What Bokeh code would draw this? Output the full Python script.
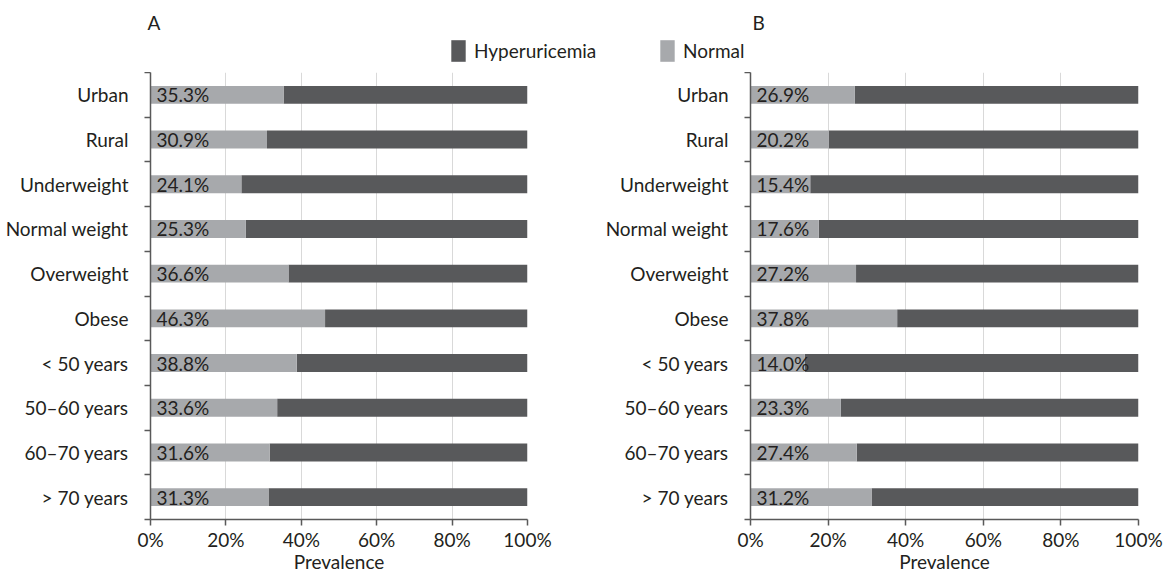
from bokeh.plotting import figure
from bokeh.layouts import column, row
from bokeh.models import (ColumnDataSource, FixedTicker, LabelSet, Label,
                          Legend, LegendItem, PrintfTickFormatter, Range1d)
from bokeh.core.properties import value
from bokeh.embed import file_html
from bokeh.resources import INLINE

# Groups, listed top to bottom
categories = ["Urban", "Rural", "Underweight", "Normal weight", "Overweight",
              "Obese", "< 50 years", "50\u201360 years", "60\u201370 years", "> 70 years"]

# Share of "Normal" (percent) in each group, panel A and panel B
normal_a = [35.3, 30.9, 24.1, 25.3, 36.6, 46.3, 38.8, 33.6, 31.6, 31.3]
normal_b = [26.9, 20.2, 15.4, 17.6, 27.2, 37.8, 14.0, 23.3, 27.4, 31.2]

x_ticks = [0, 20, 40, 60, 80, 100]
panel_labels = ["A", "B"]
series_names = ["Hyperuricemia", "Normal"]

FONT = "Lato"
FS = "19px"
TEXT = "#231f20"
DARK = "#58595b"
LIGHT = "#a7a9ac"
AXIS = "#595959"
GRID = "#d9d9d9"

n = len(categories)
ypos = [n - i - 0.5 for i in range(n)]


def panel(normal, left_border, frame_w, right_border):
    src = ColumnDataSource(dict(
        y=ypos,
        normal=normal,
        total=[100.0] * n,
        label=[f"{v:.1f}%" for v in normal],
    ))
    p = figure(output_backend="svg", toolbar_location=None,
               frame_width=frame_w, frame_height=447,
               x_range=Range1d(0, 100), y_range=Range1d(0, n),
               min_border_left=left_border, min_border_right=right_border,
               min_border_top=0, min_border_bottom=58)
    p.outline_line_color = None
    p.background_fill_color = "white"
    p.border_fill_color = "white"

    p.hbar(y="y", left="normal", right="total", height=0.4, source=src,
           fill_color=DARK, line_color=None)
    p.hbar(y="y", left=0, right="normal", height=0.4, source=src,
           fill_color=LIGHT, line_color=None)

    p.add_layout(LabelSet(x=0, y="y", text="label", source=src, x_offset=6,
                          text_baseline="middle", text_align="left",
                          text_font=value(FONT), text_font_size=FS,
                          text_color=TEXT))

    # x axis
    xa = p.xaxis[0]
    xa.ticker = FixedTicker(ticks=x_ticks, minor_ticks=[])
    xa.formatter = PrintfTickFormatter(format="%d%%")
    xa.axis_label = "Prevalence"
    xa.axis_label_text_font = FONT
    xa.axis_label_text_font_size = FS
    xa.axis_label_text_font_style = "normal"
    xa.axis_label_text_color = TEXT
    xa.axis_label_standoff = -4
    xa.major_label_text_font = FONT
    xa.major_label_text_font_size = FS
    xa.major_label_text_color = TEXT
    xa.major_label_standoff = 2
    xa.axis_line_color = AXIS
    xa.axis_line_width = 1.5
    xa.major_tick_line_color = AXIS
    xa.major_tick_line_width = 1.5
    xa.major_tick_in = 0
    xa.major_tick_out = 6
    xa.minor_tick_line_color = None

    # y axis: names centred on rows, ticks on row boundaries
    ya = p.yaxis[0]
    ya.ticker = FixedTicker(ticks=ypos, minor_ticks=list(range(n + 1)))
    ya.major_label_overrides = {y: c for y, c in zip(ypos, categories)}
    ya.major_label_text_font = FONT
    ya.major_label_text_font_size = FS
    ya.major_label_text_color = TEXT
    ya.major_label_standoff = 16
    ya.major_tick_line_color = None
    ya.major_tick_in = 0
    ya.major_tick_out = 0
    ya.minor_tick_line_color = AXIS
    ya.minor_tick_line_width = 1.5
    ya.minor_tick_in = 0
    ya.minor_tick_out = 6
    ya.axis_line_color = AXIS
    ya.axis_line_width = 1.5

    p.xgrid.ticker = FixedTicker(ticks=x_ticks[1:])
    p.xgrid.grid_line_color = GRID
    p.xgrid.grid_line_width = 1
    p.ygrid.grid_line_color = None
    return p


pa = panel(normal_a, 150, 377, 63)
pb = panel(normal_b, 160, 388, 32)

# Header strip: panel letters and shared legend
head = figure(output_backend="svg", toolbar_location=None,
              width=1170, height=72, x_range=Range1d(0, 1), y_range=Range1d(0, 1),
              min_border=0)
head.axis.visible = False
head.grid.visible = False
head.outline_line_color = None

# legend swatches (kept outside the visible range of the strip)
r_dark = head.rect(x=[-5], y=[-5], width=1, height=1, fill_color=DARK, line_color=None)
r_light = head.rect(x=[-5], y=[-5], width=1, height=1, fill_color=LIGHT, line_color=None)

for lab, xs in zip(panel_labels, [147, 752]):
    head.add_layout(Label(x=xs, y=50, x_units="screen", y_units="screen", text=lab,
                          text_font=FONT, text_font_size=FS, text_color=TEXT,
                          text_baseline="middle"))

for name, rend, xs in zip(series_names, [r_dark, r_light], [449, 658]):
    lg = Legend(items=[LegendItem(label=name, renderers=[rend])],
                location=(xs, 8), orientation="horizontal",
                glyph_width=18, glyph_height=27, label_text_font=FONT,
                label_text_font_size=FS, label_text_color=TEXT,
                label_height=27, label_standoff=7, padding=0, margin=0, spacing=0,
                border_line_color=None, background_fill_alpha=0)
    head.add_layout(lg)

layout = column(head, row(pa, pb, spacing=0), spacing=0)

open("out.html", "w").write(file_html(layout, INLINE))
